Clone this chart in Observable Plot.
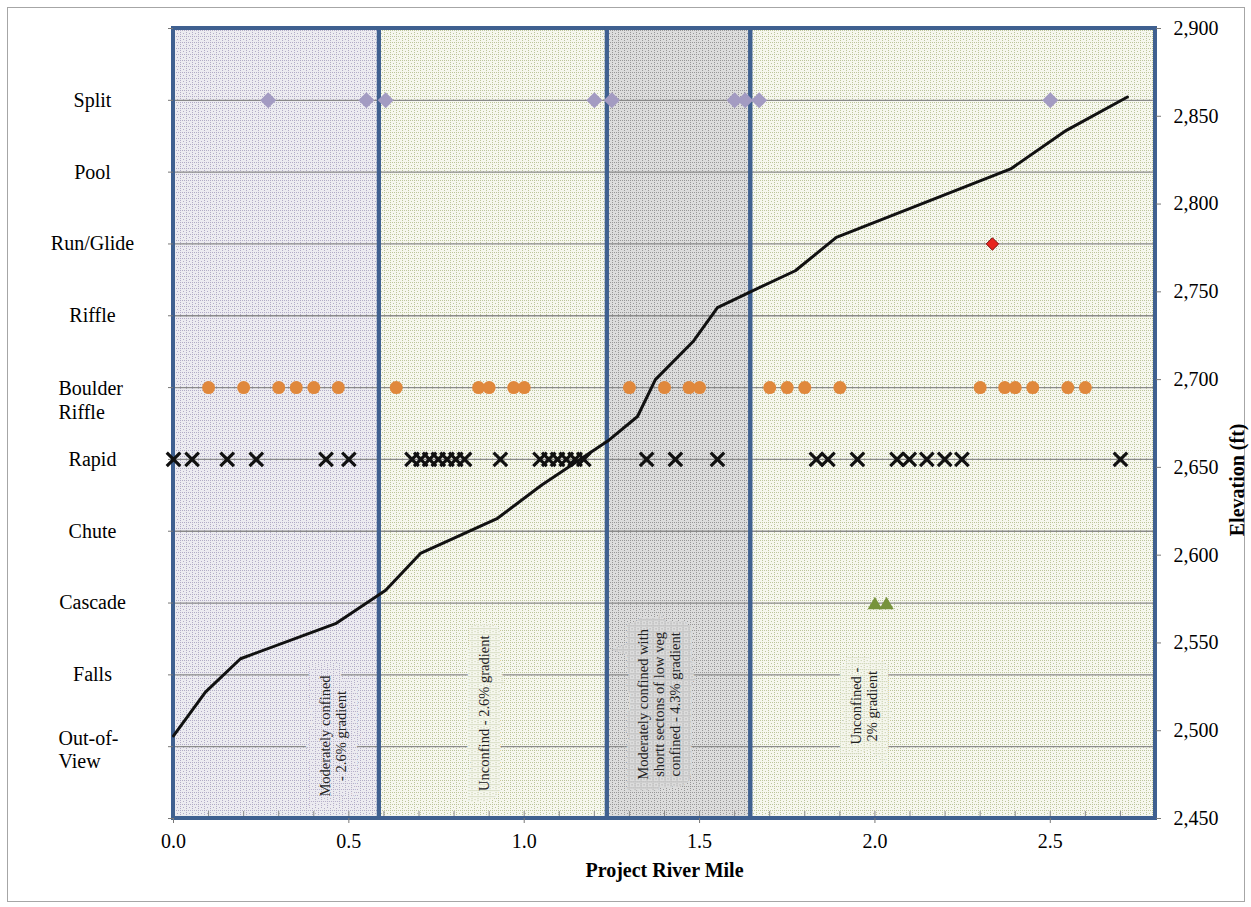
<!DOCTYPE html>
<html><head><meta charset="utf-8">
<script src="https://cdn.jsdelivr.net/npm/d3@7"></script>
<script src="https://cdn.jsdelivr.net/npm/@observablehq/plot@0.6"></script>
<style>
body{margin:0;background:#fff;}
#frame{position:absolute;left:7px;top:7px;width:1238px;height:895px;border:1px solid #a6a6a6;box-sizing:border-box;}
#chart{position:absolute;left:0;top:0;}
</style></head><body>
<div id="frame"></div><div id="chart"></div>
<script>
// ---- data ----
const categories = ["Out-of-View","Falls","Cascade","Chute","Rapid","Boulder Riffle","Riffle","Run/Glide","Pool","Split"];
const categoryLabels = ["Out-of-\nView","Falls","Cascade","Chute","Rapid","Boulder\nRiffle","Riffle","Run/Glide","Pool","Split"];

const splitMiles = [0.27, 0.55, 0.605, 1.2, 1.25, 1.6, 1.63, 1.67, 2.5];
const boulderRiffleMiles = [0.1, 0.2, 0.3, 0.35, 0.4, 0.47, 0.635, 0.87, 0.9, 0.97, 1.0, 1.3, 1.4, 1.47, 1.5, 1.7, 1.75, 1.8, 1.9, 2.3, 2.37, 2.4, 2.45, 2.55, 2.6];
const rapidMiles = [0.0, 0.053, 0.153, 0.236, 0.435, 0.5, 0.68, 0.705, 0.73, 0.755, 0.78, 0.805, 0.83, 0.932, 1.045, 1.07, 1.095, 1.12, 1.145, 1.17, 1.349, 1.431, 1.551, 1.833, 1.866, 1.95, 2.063, 2.098, 2.148, 2.199, 2.248, 2.70];
const runGlideMiles = [2.335];
const cascadeMiles = [2.0, 2.033];

const profileMiles = [0, 0.091, 0.191, 0.462, 0.605, 0.704, 0.924, 1.05, 1.238, 1.323, 1.374, 1.483, 1.551, 1.645, 1.773, 1.89, 2.387, 2.546, 2.72];
const profileElev  = [2497, 2522, 2541, 2561, 2580, 2601, 2621, 2640, 2665, 2679, 2700, 2722, 2741, 2750, 2762, 2781, 2820, 2842, 2861];

const zoneStart = [0, 0.587, 1.237, 1.646];
const zoneEnd   = [0.587, 1.237, 1.646, 2.8];
const zoneType  = ["purple", "green", "gray", "green"];
const zoneLabels = ["Moderately confined\n- 2.6% gradient", "Unconfind - 2.6% gradient", "Moderately confined with\nshortt sectons of low veg\nconfined - 4.3% gradient", "Unconfined -\n2% gradient"];
const zoneLabelMile = [0.455, 0.884, 1.383, 1.968];
const zoneLabelElev = [2497, 2510, 2515, 2514];

const elevMin = 2450, elevMax = 2900;
const elevTicks = d3.range(2450, 2901, 50);
const mileTicks = [0, 0.5, 1.0, 1.5, 2.0, 2.5];
const minorMileTicks = d3.range(0, 28).map(i => i / 10);

// ---- helpers ----
const catLevel = name => elevMin + (categories.indexOf(name) + 1) * (elevMax - elevMin) / 11;
const catGrid = categories.map(catLevel);
const leftTicks = d3.range(0, 12).map(k => elevMin + k * (elevMax - elevMin) / 11);
const patternOf = {purple: "url(#patPurple)", green: "url(#patGreen)", gray: "url(#patGray)"};
const zones = zoneStart.map((s, i) => ({x1: s, x2: zoneEnd[i], pat: patternOf[zoneType[i]],
  label: zoneLabels[i], lx: zoneLabelMile[i], ly: zoneLabelElev[i]}));
const profile = profileMiles.map((m, i) => ({m, e: profileElev[i]}));
const pts = (arr, cat) => arr.map(m => ({m, e: catLevel(cat)}));
const labelRows = categories.map((c, i) => ({c, label: categoryLabels[i], e: catLevel(c)}));
const multi = d => d.label.includes("\n");

const font = "'Liberation Serif', 'Times New Roman', serif";
const zoneTextOpts = {x: "lx", y: "ly", text: "label", rotate: -90, fontSize: 14.5, lineHeight: 1.12, textAnchor: "middle"};

const chart = Plot.plot({
  width: 1251, height: 907,
  marginLeft: 173, marginRight: 96, marginTop: 28, marginBottom: 89,
  style: {fontFamily: font, fontSize: "20px", color: "#000", background: "transparent"},
  x: {domain: [0, 2.8]},
  y: {domain: [elevMin, elevMax]},
  color: {type: "identity"},
  marks: [
    Plot.rect(zones, {x1: "x1", x2: "x2", y1: elevMin, y2: elevMax, fill: "pat"}),
    Plot.ruleY(catGrid, {stroke: "#8a8a8a", strokeWidth: 1.3}),
    Plot.ruleY([elevMax], {stroke: "#9a9a9a", strokeWidth: 1.2}),
    Plot.text(zones, {...zoneTextOpts, fill: "pat", stroke: "pat", strokeWidth: 22, strokeLinejoin: "miter"}),
    Plot.text(zones, {...zoneTextOpts, fill: "#222"}),
    Plot.ruleX(minorMileTicks, {stroke: "#8a8a8a", strokeWidth: 1, insetTop: 783}),
    Plot.rect(zones, {x1: "x1", x2: "x2", y1: elevMin, y2: elevMax, fill: "none", stroke: "#3f6090", strokeWidth: 4}),
    // axes
    Plot.axisX({ticks: mileTicks, tickFormat: d3.format(".1f"), tickSize: 5, tickPadding: 10, fontSize: 20, label: null, stroke: "#777"}),
    Plot.axisY({anchor: "right", ticks: elevTicks, tickFormat: d3.format(","), tickSize: 5, tickPadding: 13, fontSize: 20, label: null, textAnchor: "start", stroke: "#777"}),
    Plot.axisY({anchor: "left", ticks: leftTicks, tickSize: 5, tickFormat: () => "", label: null, stroke: "#777"}),
    Plot.text(labelRows.filter(d => !multi(d)), {frameAnchor: "left", y: "e", text: "label", dx: -81, textAnchor: "middle", fontSize: 20}),
    Plot.text(labelRows.filter(d => d.c === "Boulder Riffle"), {frameAnchor: "left", y: "e", text: "label", dx: -115, dy: 12, textAnchor: "start", fontSize: 20, lineHeight: 1.2}),
    Plot.text(labelRows.filter(d => d.c === "Out-of-View"), {frameAnchor: "left", y: "e", text: "label", dx: -115, dy: 2, textAnchor: "start", fontSize: 20, lineHeight: 1.15}),
    Plot.text(["Project River Mile"], {frameAnchor: "bottom", dy: 58, fontWeight: "bold", fontSize: 20}),
    Plot.text(["Elevation (ft)"], {frameAnchor: "right", dx: 82, rotate: -90, fontWeight: "bold", fontSize: 20}),
    // profile
    Plot.line(profile, {x: "m", y: "e", stroke: "#111", strokeWidth: 3}),
    // markers
    Plot.dot(pts(splitMiles, "Split"), {x: "m", y: "e", symbol: "diamond2", r: 7.2, fill: "#a39bc2"}),
    Plot.dot(pts(boulderRiffleMiles, "Boulder Riffle"), {x: "m", y: "e", r: 6.5, fill: "#e0883c"}),
    Plot.dot(pts(rapidMiles, "Rapid"), {x: "m", y: "e", symbol: "times", r: 6.2, stroke: "#111", strokeWidth: 3.2}),
    Plot.dot(pts(runGlideMiles, "Run/Glide"), {x: "m", y: "e", symbol: "diamond2", r: 5.6, fill: "#e8261e", stroke: "#7a1010", strokeWidth: 1}),
    Plot.dot(pts(cascadeMiles, "Cascade"), {x: "m", y: "e", symbol: "triangle", r: 5.4, dy: 2, fill: "#77933c"})
  ]
});

const ns = "http://www.w3.org/2000/svg";
const defs = document.createElementNS(ns, "defs");
function pat(id, base, dot) {
  const dots = [[0,0],[2,0],[4,0],[0,2],[0,4],[3,3]].map(([x,y]) => `<rect x="${x}" y="${y}" width="1" height="1" fill="${dot}"/>`).join("");
  return `<pattern id="${id}" width="6" height="6" patternUnits="userSpaceOnUse"><rect width="6" height="6" fill="${base}"/>${dots}</pattern>`;
}
defs.innerHTML = pat("patPurple", "#ecebf0", "#b2acc6") + pat("patGreen", "#f6f7ee", "#bcc59c") + pat("patGray", "#dcdcdc", "#979797");
chart.insertBefore(defs, chart.firstChild);
document.getElementById("chart").appendChild(chart);
</script>
</body></html>
